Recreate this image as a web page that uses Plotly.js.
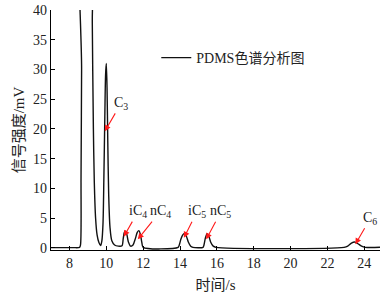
<!DOCTYPE html>
<html>
<head>
<meta charset="utf-8">
<script src="https://cdn.plot.ly/plotly-3.0.1.min.js"></script>
<style>html,body{margin:0;padding:0;background:#fff;}#chart{width:390px;height:295px;}</style>
</head>
<body>
<div id="chart"></div>
<script>
// Retention time (s) and signal (mV)
const timeS = [7.0, 8.2, 8.55, 8.6, 8.63, 8.66, 8.7, 9.2, 9.24, 9.3, 9.35, 9.42, 9.5, 9.6, 9.69,
  9.76, 9.82, 9.87, 9.92, 9.96, 10.0, 10.04, 10.08, 10.13, 10.2, 10.3, 10.45, 10.65, 10.85,
  10.92, 10.98, 11.05, 11.12, 11.2, 11.32, 11.45, 11.58, 11.68, 11.77, 11.85, 11.93, 12.0,
  13.9, 13.96, 14.05, 14.15, 14.24, 14.34, 14.45, 14.58, 14.7,
  15.25, 15.3, 15.38, 15.47, 15.56, 15.66, 15.8, 15.95,
  22.9, 23.1, 23.3, 23.47, 23.65, 23.85, 24.05, 24.85];
const signalMV = [0.05, 0.05, 0.1, 0.5, 12, 30, 60, 60, 38, 20, 11, 5, 2.2, 0.9, 0.4,
  1.2, 4, 12, 22, 29, 31, 27, 18, 9, 3.5, 1.2, 0.5, 0.3, 0.35,
  1.6, 2.6, 2.8, 2.2, 1.0, 0.3, 0.5, 1.6, 2.6, 2.9, 2.3, 0.9, 0.1,
  0.1, 0.5, 1.5, 2.2, 2.45, 2.0, 1.0, 0.3, 0.1,
  0.1, 0.5, 1.7, 2.4, 2.0, 1.0, 0.3, 0.1,
  0.1, 0.3, 0.8, 1.0, 0.7, 0.3, 0.1, 0.1];
const seriesName = 'PDMS色谱分析图';
const xTicks = [8, 10, 12, 14, 16, 18, 20, 22, 24];
const yTicks = [0, 5, 10, 15, 20, 25, 30, 35, 40];
const peakLabels = ['C<sub>3</sub>', 'iC<sub>4</sub>', 'nC<sub>4</sub>', 'iC<sub>5</sub>', 'nC<sub>5</sub>', 'C<sub>6</sub>'];
// peak pointed at (time, mV)
const peakHeadX = [9.92, 10.95, 11.71, 14.21, 15.42, 23.51];
const peakHeadY = [19.6, 1.9, 1.45, 1.7, 1.45, 0.6];

const serif = 'Liberation Serif, DejaVu Serif, serif';
const cjk = 'Liberation Serif, Noto Sans CJK SC, serif';

// label centres (time, mV)
const labX = [10.8, 11.72, 12.92, 14.92, 16.22, 24.33];
const labY = [24.3, 6.1, 6.1, 6.1, 6.1, 5.0];

const annotations = [];
for (let i = 0; i < peakLabels.length; i++) {
  annotations.push({
    x: peakHeadX[i], y: peakHeadY[i], xref: 'x', yref: 'y',
    ax: labX[i], ay: labY[i], axref: 'x', ayref: 'y',
    text: peakLabels[i], font: {family: serif, size: 14, color: '#222'},
    showarrow: true, arrowhead: 2, arrowsize: 1.1, arrowwidth: 1.1,
    arrowcolor: '#ff1a1a', standoff: 0, startstandoff: 0
  });
}

const trace = {
  x: timeS, y: signalMV, type: 'scatter', mode: 'lines', name: seriesName,
  line: {color: '#111', width: 1.4, shape: 'spline', smoothing: 0.8},
  showlegend: true
};

const layout = {
  width: 390, height: 295,
  margin: {l: 51, r: 10, t: 10, b: 45},
  paper_bgcolor: '#fff', plot_bgcolor: '#fff',
  showlegend: true,
  legend: {x: 0.32, y: 0.80, xanchor: 'left', yanchor: 'middle',
    font: {family: cjk, size: 14, color: '#222'}, bgcolor: 'rgba(0,0,0,0)'},
  xaxis: {
    range: [7.0, 24.85], tickvals: xTicks, ticks: 'inside', ticklen: 4, tickcolor: '#000',
    showline: true, linecolor: '#000', linewidth: 1.2, showgrid: false, zeroline: false,
    tickfont: {family: serif, size: 14, color: '#222'},
    title: {text: '时间/s', font: {family: cjk, size: 15, color: '#222'}, standoff: 9}
  },
  yaxis: {
    range: [-0.35, 40], tickvals: yTicks, ticks: 'inside', ticklen: 4, tickcolor: '#000',
    showline: true, linecolor: '#000', linewidth: 1.2, showgrid: false, zeroline: false,
    tickfont: {family: serif, size: 14, color: '#222'},
    title: {text: '信号强度/mV', font: {family: cjk, size: 15, color: '#222'}, standoff: 4}
  },
  annotations: annotations
};

Plotly.newPlot('chart', [trace], layout, {displayModeBar: false, staticPlot: true});
</script>
</body>
</html>
